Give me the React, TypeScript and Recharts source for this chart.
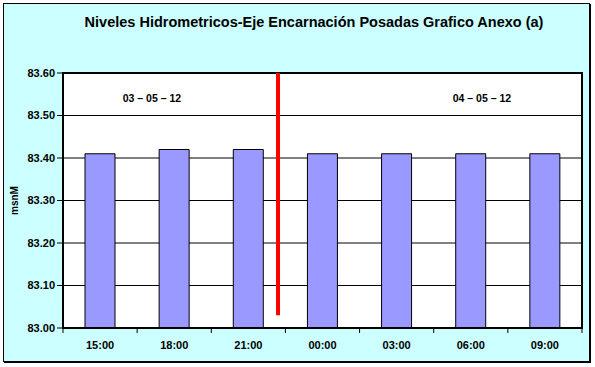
import {
  Bar,
  BarChart,
  CartesianGrid,
  ReferenceArea,
  ReferenceDot,
  ReferenceLine,
  XAxis,
  YAxis,
} from "recharts";

const categories = ["15:00", "18:00", "21:00", "00:00", "03:00", "06:00", "09:00"];
const levels = [83.41, 83.42, 83.42, 83.41, 83.41, 83.41, 83.41];
const yTicks = [83.0, 83.1, 83.2, 83.3, 83.4, 83.5, 83.6];
// band boundaries on a hidden numeric axis (0..7), used for ticks and annotations
const boundaries = [0, 1, 2, 3, 4, 5, 6, 7];
const dateText = ["03 – 05 – 12", "04 – 05 – 12"];
const datePos = [1.2, 5.65];
const dateLevel = 83.54;
const dividerPos = 2.9;
const dividerRange = [83.03, 83.6];

const FONT = "'Liberation Sans', Arial, sans-serif";

const data = categories.map((hour, i) => ({ hour, level: levels[i], pos: i + 0.5 }));

const tickStyle = { fill: "#000", fontSize: 11, fontWeight: 700, fontFamily: FONT };

function AxisTitle(props: any) {
  const vb = props.viewBox || {};
  const x = vb.x + 9;
  const y = vb.y + vb.height / 2;
  return (
    <text
      x={x}
      y={y}
      transform={`rotate(-90, ${x}, ${y})`}
      textAnchor="middle"
      dominantBaseline="central"
      style={{ fontSize: 10, fontWeight: 700, fontFamily: FONT, fill: "#000" }}
    >
      msnM
    </text>
  );
}

export default function App() {
  return (
    <div
      style={{
        position: "absolute",
        left: 0,
        top: 0,
        width: 595,
        height: 367,
        fontFamily: FONT,
      }}
    >
      <div
        style={{
          position: "absolute",
          left: 3,
          top: 3,
          width: 585,
          height: 357,
          background: "#CCFFFF",
          border: "1px solid #000",
          boxShadow: "1px 1px 0 #000",
        }}
      />
      <div
        style={{
          position: "absolute",
          left: 0,
          top: 14,
          width: 628,
          textAlign: "center",
          fontSize: 14.5,
          fontWeight: 700,
          color: "#000",
        }}
      >
        Niveles Hidrometricos-Eje Encarnación Posadas Grafico Anexo (a)
      </div>
      <div style={{ position: "absolute", left: 0, top: 0 }}>
        <BarChart
          width={595}
          height={367}
          data={data}
          margin={{ top: 73, right: 13, bottom: 8, left: 5 }}
        >
          <CartesianGrid
            xAxisId="b_labels"
            vertical={false}
            stroke="#000"
            strokeOpacity={1}
            fill="#fff"
          />
          <XAxis
            xAxisId="b_labels"
            dataKey="hour"
            height={25}
            tickSize={0}
            tickMargin={7}
            axisLine={false}
            tickLine={false}
            tick={tickStyle}
            interval={0}
          />
          <XAxis
            xAxisId="a"
            type="number"
            dataKey="pos"
            domain={[0, 7]}
            allowDataOverflow
            ticks={boundaries}
            tickFormatter={() => ""}
            height={6}
            tickSize={5}
            axisLine={{ stroke: "#000", strokeWidth: 2 }}
            tickLine={{ stroke: "#000" }}
          />
          <YAxis
            domain={[83, 83.6]}
            ticks={yTicks}
            tickFormatter={(v: number) => v.toFixed(2)}
            width={58}
            tickSize={6}
            tickMargin={2}
            tick={tickStyle}
            axisLine={{ stroke: "#000", strokeWidth: 2 }}
            tickLine={{ stroke: "#000" }}
            label={{ content: AxisTitle }}
          />
          <Bar
            xAxisId="b_labels"
            dataKey="level"
            fill="#9999FF"
            stroke="#000"
            strokeWidth={1}
            barSize={30}
            isAnimationActive={false}
          />
          <ReferenceArea
            xAxisId="a"
            x1={0}
            x2={7}
            y1={83}
            y2={83.6}
            fill="none"
            fillOpacity={0}
            stroke="#000"
            strokeWidth={2}
            ifOverflow="visible"
          />
          <ReferenceLine
            xAxisId="a"
            segment={[
              { x: dividerPos, y: dividerRange[0] },
              { x: dividerPos, y: dividerRange[1] },
            ]}
            stroke="#FF0000"
            strokeWidth={4}
          />
          {dateText.map((t, i) => (
            <ReferenceDot
              key={t}
              xAxisId="a"
              x={datePos[i]}
              y={dateLevel}
              r={0}
              fill="none"
              stroke="none"
              label={{
                value: t,
                position: "center",
                fill: "#000",
                fontSize: 10.5,
                fontWeight: 700,
                fontFamily: FONT,
              }}
            />
          ))}
        </BarChart>
      </div>
    </div>
  );
}
